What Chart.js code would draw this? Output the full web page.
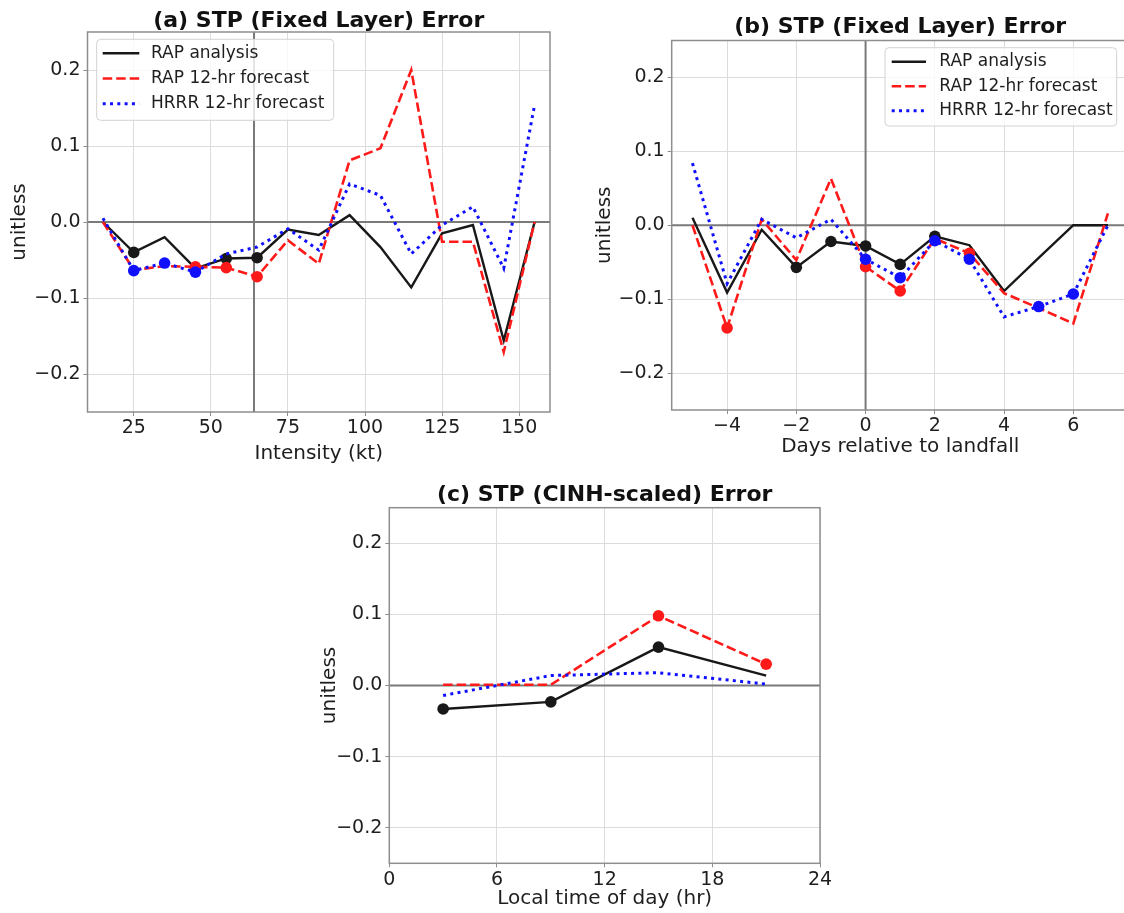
<!DOCTYPE html>
<html><head><meta charset="utf-8">
<script src="https://cdn.jsdelivr.net/npm/chart.js@4.4.1/dist/chart.umd.min.js"></script>
<style>
html,body{margin:0;padding:0;background:#fff;width:1124px;height:913px;overflow:hidden;position:relative}
canvas{position:absolute}
</style></head><body>
<canvas id="ca" width="560" height="470" style="left:0px;top:0px"></canvas>
<canvas id="cb" width="550" height="470" style="left:590px;top:0px"></canvas>
<canvas id="cc" width="560" height="443" style="left:300px;top:470px"></canvas>
<script>
// ---------- data ----------
const SERIES_NAMES = ['RAP analysis', 'RAP 12-hr forecast', 'HRRR 12-hr forecast'];
const Y_TICKS = [-0.2, -0.1, 0.0, 0.1, 0.2];

// (a) intensity
const INTENSITY_KT = [15, 25, 35, 45, 55, 65, 75, 85, 95, 105, 115, 125, 135, 145, 155];
const A_RAP_ANALYSIS = [0.000, -0.040, -0.020, -0.061, -0.048, -0.047, -0.010, -0.017, 0.009, -0.033, -0.086, -0.015, -0.004, -0.156, 0.000];
const A_RAP_FCST     = [0.000, -0.063, -0.058, -0.059, -0.060, -0.072, -0.024, -0.055, 0.081, 0.097, 0.200, -0.026, -0.026, -0.171, 0.000];
const A_HRRR_FCST    = [0.005, -0.064, -0.054, -0.066, -0.042, -0.033, -0.009, -0.037, 0.050, 0.035, -0.042, -0.004, 0.020, -0.061, 0.154];
const A_SIG_ANALYSIS = [0, 1, 0, 1, 1, 1, 0, 0, 0, 0, 0, 0, 0, 0, 0];
const A_SIG_RAP      = [0, 0, 0, 1, 1, 1, 0, 0, 0, 0, 0, 0, 0, 0, 0];
const A_SIG_HRRR     = [0, 1, 1, 1, 0, 0, 0, 0, 0, 0, 0, 0, 0, 0, 0];
const A_XTICKS = [25, 50, 75, 100, 125, 150];
const A_HURRICANE_KT = 64;

// (b) days relative to landfall
const DAYS = [-5, -4, -3, -2, -1, 0, 1, 2, 3, 4, 5, 6, 7];
const B_RAP_ANALYSIS = [0.010, -0.091, -0.006, -0.057, -0.022, -0.028, -0.053, -0.015, -0.027, -0.089, -0.044, 0.000, 0.000];
const B_RAP_FCST     = [0.000, -0.139, 0.008, -0.047, 0.063, -0.056, -0.089, -0.018, -0.038, -0.092, -0.112, -0.133, 0.016];
const B_HRRR_FCST    = [0.084, -0.079, 0.008, -0.017, 0.008, -0.046, -0.071, -0.021, -0.046, -0.124, -0.110, -0.093, 0.000];
const B_SIG_ANALYSIS = [0, 0, 0, 1, 1, 1, 1, 1, 0, 0, 0, 0, 0];
const B_SIG_RAP      = [0, 1, 0, 0, 0, 1, 1, 0, 1, 0, 0, 0, 0];
const B_SIG_HRRR     = [0, 0, 0, 0, 0, 1, 1, 1, 1, 0, 1, 1, 0];
const B_XTICKS = [-4, -2, 0, 2, 4, 6];
const B_LANDFALL_DAY = 0;

// (c) local time of day
const HOURS = [3, 9, 15, 21];
const C_RAP_ANALYSIS = [-0.033, -0.023, 0.054, 0.014];
const C_RAP_FCST     = [0.001, 0.001, 0.098, 0.030];
const C_HRRR_FCST    = [-0.014, 0.014, 0.018, 0.002];
const C_SIG_ANALYSIS = [1, 1, 1, 0];
const C_SIG_RAP      = [0, 0, 1, 1];
const C_SIG_HRRR     = [0, 0, 0, 0];
const C_XTICKS = [0, 6, 12, 18, 24];

// ---------- styling ----------
const FONT = "'DejaVu Sans', 'Liberation Sans', sans-serif";
const TXT = '#1e1e1e';
const fmtNum = (v, d) => (v < 0 ? '\u2212' : '') + Math.abs(v).toFixed(d);

const refLines = {
  id: 'refLines',
  beforeDatasetsDraw(chart, args, opts) {
    const {ctx, chartArea: ca, scales} = chart;
    ctx.save();
    ctx.strokeStyle = '#7a7a7a';
    ctx.lineWidth = 2;
    const y0 = scales.y.getPixelForValue(0);
    ctx.beginPath(); ctx.moveTo(ca.left, y0); ctx.lineTo(ca.right, y0); ctx.stroke();
    if (opts.vline !== undefined && opts.vline !== null) {
      const x0 = scales.x.getPixelForValue(opts.vline);
      ctx.beginPath(); ctx.moveTo(x0, ca.top); ctx.lineTo(x0, ca.bottom); ctx.stroke();
    }
    ctx.restore();
  },
  afterDatasetsDraw(chart) {
    const {ctx, chartArea: ca} = chart;
    ctx.save();
    ctx.strokeStyle = '#8e8e8e';
    ctx.lineWidth = 1.5;
    ctx.strokeRect(ca.left, ca.top, ca.right - ca.left, ca.bottom - ca.top);
    ctx.restore();
  }
};

const mplLegend = {
  id: 'mplLegend',
  afterDraw(chart, args, o) {
    if (!o || !o.show) return;
    const {ctx, chartArea: ca} = chart;
    const x0 = o.anchor === 'right' ? ca.right - o.dx - o.w : ca.left + o.dx;
    const y0 = ca.top + o.dy;
    ctx.save();
    ctx.beginPath();
    const r = 4;
    ctx.moveTo(x0 + r, y0);
    ctx.arcTo(x0 + o.w, y0, x0 + o.w, y0 + o.h, r);
    ctx.arcTo(x0 + o.w, y0 + o.h, x0, y0 + o.h, r);
    ctx.arcTo(x0, y0 + o.h, x0, y0, r);
    ctx.arcTo(x0, y0, x0 + o.w, y0, r);
    ctx.closePath();
    ctx.fillStyle = 'rgba(255,255,255,0.8)';
    ctx.fill();
    ctx.strokeStyle = '#d2d2d2';
    ctx.lineWidth = 1;
    ctx.stroke();
    chart.data.datasets.forEach((ds, i) => {
      const y = y0 + o.row0 + i * o.gap;
      ctx.strokeStyle = ds.borderColor;
      ctx.lineWidth = ds.borderWidth;
      ctx.setLineDash(ds.borderDash || []);
      ctx.lineCap = 'butt';
      ctx.beginPath(); ctx.moveTo(x0 + o.lx0, y); ctx.lineTo(x0 + o.lx1, y); ctx.stroke();
      ctx.setLineDash([]);
      ctx.fillStyle = TXT;
      ctx.font = '17px ' + FONT;
      ctx.textBaseline = 'middle';
      ctx.textAlign = 'left';
      ctx.fillText(ds.label, x0 + o.tx, y);
    });
    ctx.restore();
  }
};

function ds(label, xs, ys, sig, color, width, dash, order) {
  return {
    label,
    data: xs.map((x, i) => ({x, y: ys[i]})),
    borderColor: color,
    backgroundColor: color,
    borderWidth: width,
    borderDash: dash,
    borderCapStyle: 'butt',
    tension: 0,
    pointRadius: sig.map(s => s ? 5.8 : 0),
    pointHoverRadius: 0,
    pointBorderWidth: 0,
    pointBackgroundColor: color,
    order,
    clip: false
  };
}

function makeChart(id, g) {
  const tickFont = {family: FONT, size: 19};
  const labelFont = {family: FONT, size: 20};
  return new Chart(document.getElementById(id), {
    type: 'line',
    data: {
      datasets: [
        ds(SERIES_NAMES[0], g.xs, g.s[0], g.sig[0], '#181818', 2.4, [], 3),
        ds(SERIES_NAMES[1], g.xs, g.s[1], g.sig[1], '#ff1a1a', 2.6, [9.5, 4], 2),
        ds(SERIES_NAMES[2], g.xs, g.s[2], g.sig[2], '#1010ff', 3, [3, 4.3], 1)
      ]
    },
    options: {
      responsive: false,
      animation: false,
      devicePixelRatio: 1,
      events: [],
      layout: {padding: g.pad},
      scales: {
        x: {
          type: 'linear', min: g.xmin, max: g.xmax,
          afterBuildTicks: s => { s.ticks = g.xticks.map(v => ({value: v})); },
          afterFit: s => { s.height = g.xh; s.paddingLeft = 0; s.paddingRight = 0; },
          ticks: {font: tickFont, color: TXT, padding: 1, maxRotation: 0, autoSkip: false,
                  callback: v => fmtNum(v, 0)},
          grid: {color: '#dcdcdc', lineWidth: 1, tickLength: 4, tickColor: '#8e8e8e', drawTicks: true},
          border: {display: false},
          title: {display: true, text: g.xlabel, font: labelFont, color: TXT, padding: {top: 0, bottom: g.xtpad}}
        },
        y: {
          type: 'linear', min: -0.25, max: 0.25,
          afterBuildTicks: s => { s.ticks = Y_TICKS.map(v => ({value: v})); },
          afterFit: s => { s.width = g.yw; s.paddingTop = 0; s.paddingBottom = 0; },
          ticks: {font: tickFont, color: TXT, padding: 3, callback: v => fmtNum(v, 1)},
          grid: {color: '#dcdcdc', lineWidth: 1, tickLength: 4, tickColor: '#8e8e8e', drawTicks: true},
          border: {display: false},
          title: {display: true, text: 'unitless', font: labelFont, color: TXT, padding: {top: g.ytpad, bottom: 0}}
        }
      },
      plugins: {
        legend: {display: false},
        tooltip: {enabled: false},
        title: {display: true, text: g.title, fullSize: false, color: '#111',
                font: {family: FONT, size: 22, weight: 'bold', lineHeight: 1},
                padding: {top: g.ttop, bottom: g.tbot}},
        refLines: {vline: g.vline},
        mplLegend: g.legend
      }
    },
    plugins: [refLines, mplLegend]
  });
}

makeChart('ca', {
  xs: INTENSITY_KT, s: [A_RAP_ANALYSIS, A_RAP_FCST, A_HRRR_FCST], sig: [A_SIG_ANALYSIS, A_SIG_RAP, A_SIG_HRRR],
  xmin: 10, xmax: 160, xticks: A_XTICKS, xlabel: 'Intensity (kt)', title: '(a) STP (Fixed Layer) Error',
  pad: {left: 0, right: 10, top: 0, bottom: 0}, yw: 87.5, xh: 58, xtpad: 4, ytpad: 8, ttop: 10, tbot: 0,
  vline: A_HURRICANE_KT,
  legend: {show: true, anchor: 'left', dx: 9.2, dy: 7.3, w: 237, h: 81, row0: 14, gap: 25.2, lx0: 6, lx1: 42.6, tx: 54.3}
});
makeChart('cb', {
  xs: DAYS, s: [B_RAP_ANALYSIS, B_RAP_FCST, B_HRRR_FCST], sig: [B_SIG_ANALYSIS, B_SIG_RAP, B_SIG_HRRR],
  xmin: -5.6, xmax: 7.6, xticks: B_XTICKS, xlabel: 'Days relative to landfall', title: '(b) STP (Fixed Layer) Error',
  pad: {left: 0, right: 11.3, top: 0, bottom: 0}, yw: 81.7, xh: 60, xtpad: 11, ytpad: 3, ttop: 16.7, tbot: 1.8,
  vline: B_LANDFALL_DAY,
  legend: {show: true, anchor: 'right', dx: 12, dy: 7.2, w: 231.7, h: 78.3, row0: 14, gap: 24.5, lx0: 6.7, lx1: 41, tx: 54.3}
});
makeChart('cc', {
  xs: HOURS, s: [C_RAP_ANALYSIS, C_RAP_FCST, C_HRRR_FCST], sig: [C_SIG_ANALYSIS, C_SIG_RAP, C_SIG_HRRR],
  xmin: 0, xmax: 24, xticks: C_XTICKS, xlabel: 'Local time of day (hr)', title: '(c) STP (CINH-scaled) Error',
  pad: {left: 0, right: 40, top: 0, bottom: 0}, yw: 89.3, xh: 49.7, xtpad: 2, ytpad: 18, ttop: 14, tbot: 1.7,
  vline: null,
  legend: {show: false}
});
</script>
</body></html>
